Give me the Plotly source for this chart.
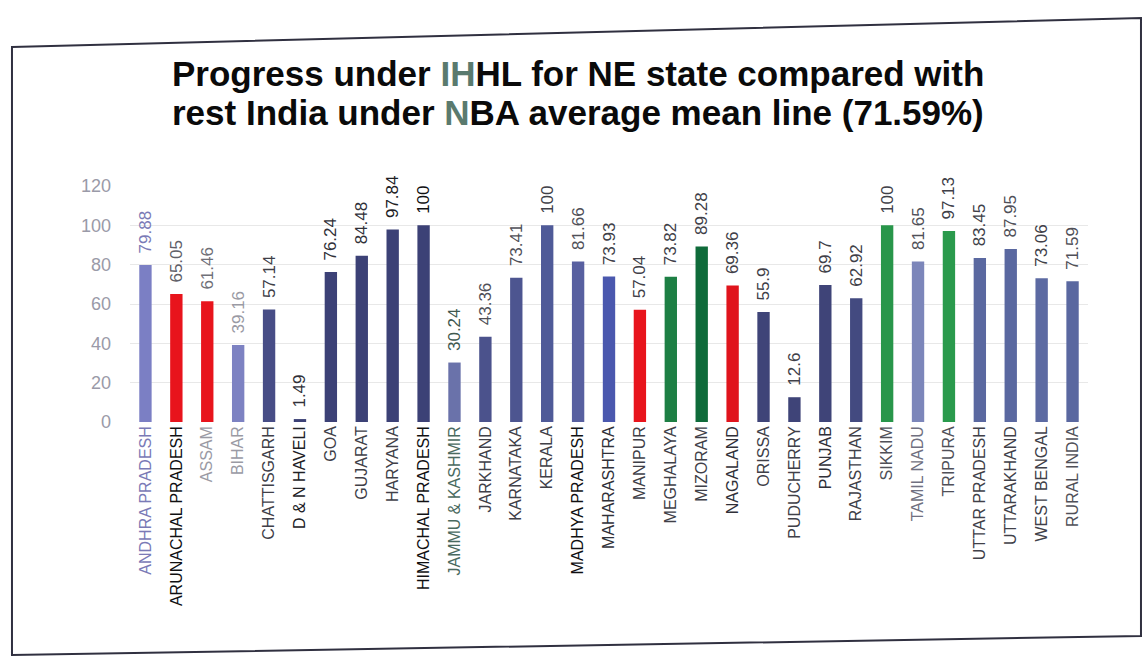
import plotly.graph_objects as go

# IHHL coverage (%) by state, with the rural India average as the last bar
states = [
    "ANDHRA PRADESH", "ARUNACHAL PRADESH", "ASSAM", "BIHAR", "CHATTISGARH",
    "D & N HAVELI", "GOA", "GUJARAT", "HARYANA", "HIMACHAL PRADESH",
    "JAMMU & KASHMIR", "JARKHAND", "KARNATAKA", "KERALA", "MADHYA PRADESH",
    "MAHARASHTRA", "MANIPUR", "MEGHALAYA", "MIZORAM", "NAGALAND", "ORISSA",
    "PUDUCHERRY", "PUNJAB", "RAJASTHAN", "SIKKIM", "TAMIL NADU", "TRIPURA",
    "UTTAR PRADESH", "UTTARAKHAND", "WEST BENGAL", "RURAL INDIA",
]
coverage = [
    79.88, 65.05, 61.46, 39.16, 57.14, 1.49, 76.24, 84.48, 97.84, 100,
    30.24, 43.36, 73.41, 100, 81.66, 73.93, 57.04, 73.82, 89.28, 69.36,
    55.9, 12.6, 69.7, 62.92, 100, 81.65, 97.13, 83.45, 87.95, 73.06, 71.59,
]
value_labels = [
    "79.88", "65.05", "61.46", "39.16", "57.14", "1.49", "76.24", "84.48",
    "97.84", "100", "30.24", "43.36", "73.41", "100", "81.66", "73.93",
    "57.04", "73.82", "89.28", "69.36", "55.9", "12.6", "69.7", "62.92",
    "100", "81.65", "97.13", "83.45", "87.95", "73.06", "71.59",
]
y_ticks = [0, 20, 40, 60, 80, 100, 120]
title_lines = [
    'Progress under <span style="color:#5a7a6e">IH</span>HL for NE state compared with',
    'rest India under <span style="color:#5a7a6e">N</span>BA average mean line (71.59%)',
]

# NE states below / above the national mean are red / green
bar_colors = [
    "#7b7fc4", "#e8141c", "#e8141c", "#7d82c2", "#474d86",
    "#3c4176", "#3c4176", "#3c4176", "#3c4176", "#3c4176",
    "#6a72aa", "#4b528c", "#4d5590", "#4f5a98", "#5860a0",
    "#4a58ae", "#e8141c", "#1d7f44", "#0f6b3a", "#e0141c", "#3f4478",
    "#3f4478", "#3f4478", "#434a80", "#28964a", "#7c86ba", "#2a9a4c",
    "#5a68a0", "#5a68a0", "#5c6aa2", "#5a68a0",
]
text_colors = [
    "#7a7ab6", "#606068", "#707078", "#9a9aa4", "#404048",
    "#303038", "#303038", "#303038", "#202024", "#101012",
    "#40584f", "#505058", "#505058", "#404048", "#505058",
    "#404048", "#404048", "#404048", "#404048", "#404048", "#404048",
    "#404048", "#404048", "#404048", "#404048", "#505058", "#404048",
    "#404048", "#505058", "#404048", "#505058",
]
tick_colors = [
    "#7a7ab6", "#101012", "#9a9aa4", "#9a9aa4", "#404048",
    "#202024", "#404048", "#404048", "#404048", "#101012",
    "#4a6a60", "#404048", "#404048", "#404048", "#101012",
    "#303038", "#404048", "#404048", "#404048", "#303038", "#404048",
    "#404048", "#303038", "#404048", "#505058", "#707080", "#505058",
    "#404048", "#404048", "#404048", "#505058",
]
tick_text = [f'<span style="color:{c}">{s}</span>' for s, c in zip(states, tick_colors)]
# a small lead space keeps each value label clear of its bar top
bar_text = ["\u2002" + v for v in value_labels]

W, H = 1144, 658
ML, MR, MT, MB = 130, 56, 186, 236
PW, PH = W - ML - MR, H - MT - MB


def px_to_paper(x, y):
    """Convert page pixel coordinates into paper coordinates of the plot area."""
    return (x - ML) / PW, (H - MB - y) / PH


# outer panel frame (slightly skewed outline)
frame_pts = [px_to_paper(12, 47), px_to_paper(1141, 18), px_to_paper(1141, 636), px_to_paper(12, 655)]
frame_path = "M " + " L ".join(f"{x:.4f},{y:.4f}" for x, y in frame_pts) + " Z"

fig = go.Figure(
    go.Bar(
        x=states,
        y=coverage,
        marker=dict(color=bar_colors, line=dict(width=0)),
        text=bar_text,
        textposition="outside",
        textangle=-90,
        constraintext="none",
        textfont=dict(family="Liberation Sans, Arial, sans-serif", size=17, color=text_colors),
        cliponaxis=False,
        hoverinfo="x+y",
    )
)

title_font = dict(family="Liberation Sans, Arial, sans-serif", size=35, color="#0a0a0a", weight="bold")
annotations = []
for line, cy in zip(title_lines, [74, 113]):
    ax, ay = px_to_paper(578, cy)
    annotations.append(dict(
        text=line, x=ax, y=ay, xref="paper", yref="paper",
        xanchor="center", yanchor="middle", showarrow=False, font=title_font,
    ))

fig.update_layout(
    width=W,
    height=H,
    margin=dict(l=ML, r=MR, t=MT, b=MB),
    paper_bgcolor="white",
    plot_bgcolor="white",
    bargap=0.6,
    showlegend=False,
    annotations=annotations,
    xaxis=dict(
        tickmode="array",
        tickvals=states,
        ticktext=tick_text,
        tickangle=-90,
        tickfont=dict(family="Liberation Sans, Arial, sans-serif", size=16),
        showgrid=False,
        showline=False,
        ticks="",
        range=[-0.5, len(states) - 0.5],
    ),
    yaxis=dict(
        range=[0, 120],
        tickvals=y_ticks,
        tickfont=dict(family="Liberation Sans, Arial, sans-serif", size=18, color="#9a9aa8"),
        showgrid=True,
        gridcolor="#e8e8e8",
        gridwidth=1,
        zeroline=False,
        showline=False,
        ticks="",
        ticklabelstandoff=18,
    ),
    shapes=[
        dict(
            type="path",
            xref="paper", yref="paper",
            path=frame_path,
            line=dict(color="#303040", width=2),
            layer="above",
        ),
    ],
)

fig.write_html("out.html")
